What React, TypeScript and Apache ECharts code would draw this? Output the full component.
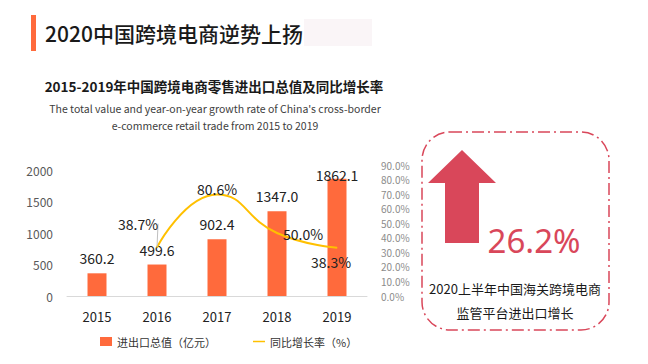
import React, { useEffect, useRef } from "react";
import * as echarts from "echarts";

const years = ["2015", "2016", "2017", "2018", "2019"];
const tradeValues = [360.2, 499.6, 902.4, 1347.0, 1862.1];
const growthRates: (number | null)[] = [null, 38.7, 80.6, 50.0, 38.3];
const barName = "进出口总值（亿元）";
const lineName = "同比增长率（%）";
const pageTitle = "2020中国跨境电商逆势上扬";
const chartTitle = "2015-2019年中国跨境电商零售进出口总值及同比增长率";
const chartSubtitle = "The total value and year-on-year growth rate of China's cross-border\ne-commerce retail trade from 2015 to 2019";
const highlightValue = "26.2%";
const highlightText = "2020上半年中国海关跨境电商\n监管平台进出口增长";

const CJK = '"Noto Sans CJK SC", "Noto Sans", sans-serif';
const RED = "#D9475A";

export default function App() {
  const ref = useRef<HTMLDivElement>(null);
  useEffect(() => {
    document.body.style.margin = "0";
    const chart = echarts.init(ref.current!, null, { renderer: "svg" });
    const lineOffsets: Record<number, [number, number]> = {
      1: [-19, -11],
      2: [0, 7],
      3: [26, 13],
      4: [-6, 27],
    };
    chart.setOption({
      animation: false,
      backgroundColor: "#ffffff",
      textStyle: { fontFamily: CJK },
      graphic: [
        { type: "rect", shape: { x: 31, y: 15, width: 5, height: 36 }, style: { fill: "#FF6A3C" } },
        { type: "rect", shape: { x: 304, y: 19, width: 68, height: 27 }, style: { fill: "#FAF5F7" } },
        {
          type: "text", x: 45, y: 33,
          style: { text: pageTitle, fontSize: 21, fontWeight: 500, fill: "#1a1a1a", fontFamily: CJK, verticalAlign: "middle" },
        },
        {
          type: "text", x: 214, y: 86,
          style: { text: chartTitle, fontSize: 13.5, fontWeight: "bold", fill: "#1a1a1a", fontFamily: CJK, align: "center", verticalAlign: "middle" },
        },
        {
          type: "text", x: 215, y: 117,
          style: { text: chartSubtitle, fontSize: 10.5, lineHeight: 17, fill: "#404040", fontFamily: CJK, align: "center", verticalAlign: "middle" },
        },
        {
          type: "rect", shape: { x: 422, y: 132, width: 187, height: 198, r: 28 },
          style: { fill: "none", stroke: RED, lineWidth: 1.5, lineDash: [12, 4, 2, 4] },
        },
        {
          type: "polygon",
          shape: { points: [[462, 150], [428, 183], [445, 183], [445, 243], [479, 243], [479, 183], [496, 183]] },
          style: { fill: RED },
        },
        {
          type: "text", x: 534, y: 240,
          style: { text: highlightValue, fontSize: 33, fill: RED, fontFamily: '"Noto Sans", sans-serif', align: "center", verticalAlign: "middle" },
        },
        {
          type: "text", x: 515, y: 300,
          style: { text: highlightText, fontSize: 13, lineHeight: 24, fill: "#1a1a1a", fontFamily: CJK, align: "center", verticalAlign: "middle" },
        },
      ],
      legend: {
        left: 95, top: 331,
        itemWidth: 12, itemHeight: 9, itemGap: 37, itemTextGap: 4,
        textStyle: { fontSize: 11, color: "#333", fontFamily: CJK },
        data: [
          { name: barName, icon: "rect" },
          { name: lineName, icon: "path://M0,0H16V2H0Z", itemStyle: { color: "#FFC000" } },
        ],
      },
      grid: [
        { left: 67, top: 170, width: 300, height: 126 },
        { left: 376, top: 165, width: 1, height: 131 },
      ],
      xAxis: [
        {
          type: "category", data: years, gridIndex: 0,
          axisLine: { lineStyle: { color: "#d9d9d9" } },
          axisTick: { show: false },
          axisLabel: { fontSize: 13, color: "#222", margin: 14 },
        },
        { type: "category", gridIndex: 1, data: [""], show: false },
      ],
      yAxis: [
        {
          type: "value", gridIndex: 0, min: 0, max: 2000, interval: 500,
          splitLine: { show: false }, axisLine: { show: false }, axisTick: { show: false },
          axisLabel: { fontSize: 12, color: "#595959", margin: 14, formatter: (v: number) => String(v) },
        },
        {
          type: "value", gridIndex: 0, min: 0, max: 100, show: false, splitLine: { show: false },
        },
        {
          type: "value", gridIndex: 1, min: 0, max: 90, interval: 10, position: "right",
          splitLine: { show: false }, axisLine: { show: false }, axisTick: { show: false },
          axisLabel: { fontSize: 10, color: "#8c8c8c", margin: 4, formatter: (v: number) => v.toFixed(1) + "%" },
        },
      ],
      series: [
        {
          name: barName, type: "bar", data: tradeValues, barWidth: 19,
          itemStyle: { color: "#FF6A3C" },
          label: {
            show: true, position: "top", distance: 8, fontSize: 14, color: "#222",
            formatter: (p: any) => p.value.toFixed(1),
          },
          labelLayout: (p: any) => (p.dataIndex === 4 ? { dy: 11 } : {}),
        },
        {
          name: lineName, type: "line", yAxisIndex: 1, smooth: true,
          symbol: "circle", symbolSize: 1, showSymbol: true,
          data: growthRates.map((v, i) => (i === 1 ? { value: v, labelLine: { show: true } } : v)),
          lineStyle: { color: "#FFC000", width: 2 },
          itemStyle: { color: "#FFC000" },
          label: {
            show: true, position: "top", fontSize: 14, color: "#222",
            formatter: (p: any) => (p.value == null ? "" : Number(p.value).toFixed(1) + "%"),
          },
          labelLine: { lineStyle: { color: "#bfbfbf", width: 1 } },
          labelLayout: (p: any) => {
            const o = lineOffsets[p.dataIndex];
            return o ? { dx: o[0], dy: o[1] } : {};
          },
        },
      ],
    });
    return () => chart.dispose();
  }, []);
  return <div ref={ref} style={{ width: 648, height: 364 }} />;
}
